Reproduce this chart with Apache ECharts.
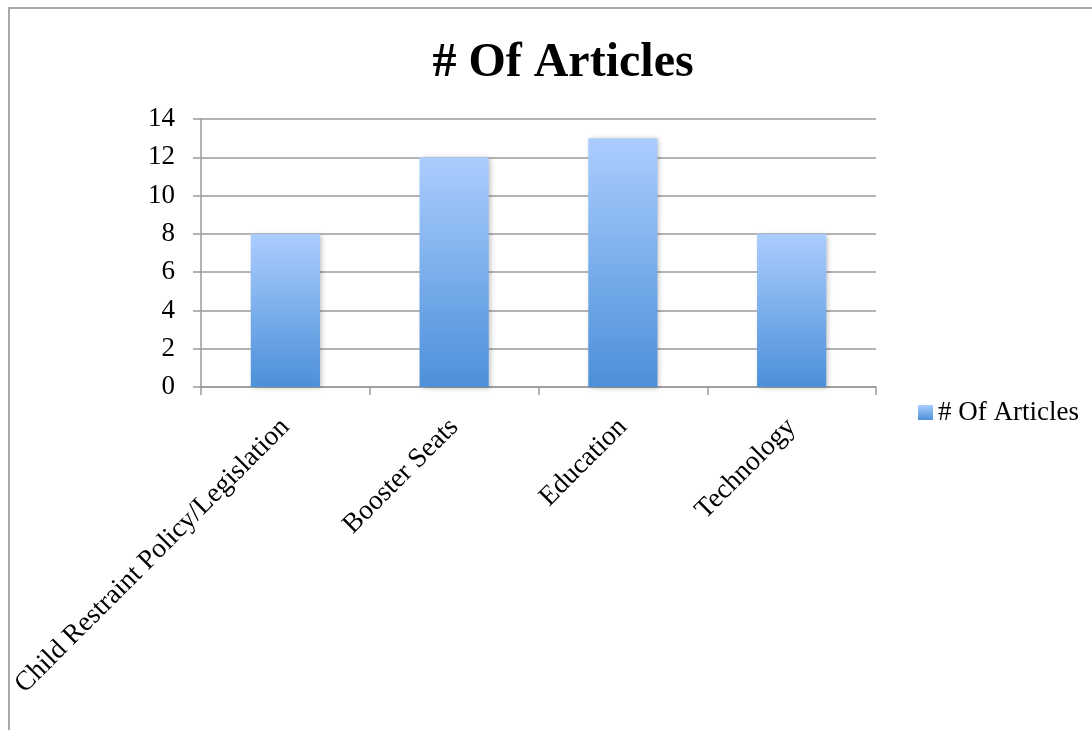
<!DOCTYPE html>
<html>
<head>
<meta charset="utf-8">
<script src="https://cdn.jsdelivr.net/npm/echarts@6/dist/echarts.min.js"></script>
<style>
  html, body { margin: 0; padding: 0; background: #fff; }
  #chart { width: 1092px; height: 730px; }
</style>
</head>
<body>
<div id="chart"></div>
<script>
// Article counts per topic
const categories = ['Child Restraint Policy/Legislation', 'Booster Seats', 'Education', 'Technology'];
const articleCounts = [8, 12, 13, 8];
const seriesName = '# Of Articles';
const yTicks = { min: 0, max: 14, interval: 2 };

const serif = '"Liberation Serif", "DejaVu Serif", serif';
const gray = '#9a9a9a';

const chart = echarts.init(document.getElementById('chart'), null, { renderer: 'canvas' });

chart.setOption({
  backgroundColor: '#ffffff',
  animation: false,
  graphic: [{
    type: 'rect',
    shape: { x: 9, y: 8, width: 1100, height: 740 },
    style: { fill: 'none', stroke: '#a8a8a8', lineWidth: 2 },
    z: -1
  }],
  title: {
    text: seriesName,
    left: 558,
    textAlign: 'center',
    top: 35,
    textStyle: { fontFamily: serif, fontWeight: 'bold', fontSize: 48, color: '#000' }
  },
  legend: {
    data: [seriesName],
    left: 918,
    top: 399,
    padding: 0,
    itemWidth: 15,
    itemHeight: 15,
    itemGap: 0,
    icon: 'rect',
    textStyle: { fontFamily: serif, fontSize: 27, color: '#000' }
  },
  grid: { left: 201, right: 216, top: 119, bottom: 343, containLabel: false },
  xAxis: {
    type: 'category',
    data: categories,
    boundaryGap: true,
    axisLine: { show: true, lineStyle: { color: gray, width: 1.5 } },
    axisTick: { show: true, length: 8, alignWithLabel: false, interval: 0, lineStyle: { color: gray, width: 1.5 } },
    axisLabel: {
      interval: 0,
      rotate: 45,
      margin: 36,
      fontFamily: serif,
      fontSize: 27.5,
      color: '#000'
    },
    splitLine: { show: false }
  },
  yAxis: {
    type: 'value',
    min: yTicks.min,
    max: yTicks.max,
    interval: yTicks.interval,
    axisLine: { show: true, lineStyle: { color: gray, width: 1.5 } },
    axisTick: { show: true, length: 8, lineStyle: { color: gray, width: 1.5 } },
    axisLabel: { margin: 26, fontFamily: serif, fontSize: 27, color: '#000' },
    splitLine: { show: true, lineStyle: { color: gray, width: 1.5 } }
  },
  series: [{
    name: seriesName,
    type: 'bar',
    data: articleCounts,
    barWidth: '41%',
    itemStyle: {
      color: new echarts.graphic.LinearGradient(0, 0, 0, 1, [
        { offset: 0, color: '#abcdfe' },
        { offset: 1, color: '#4c90d9' }
      ]),
      shadowBlur: 5,
      shadowOffsetX: 2,
      shadowOffsetY: 1,
      shadowColor: 'rgba(0,0,0,0.25)'
    }
  }]
});
</script>
</body>
</html>
